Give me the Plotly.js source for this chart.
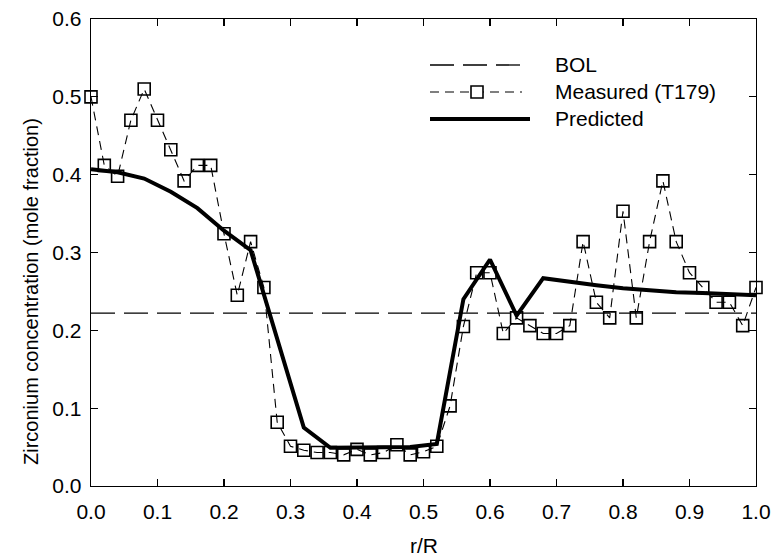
<!DOCTYPE html>
<html>
<head>
<meta charset="utf-8">
<script src="https://cdn.plot.ly/plotly-3.0.1.min.js"></script>
<style>html,body{margin:0;padding:0;background:#fff;}#chart{width:771px;height:560px;}</style>
</head>
<body>
<div id="chart"></div>
<script>
// Measured (T179) radial positions and zirconium mole fractions
const measuredX = [0.00,0.02,0.04,0.06,0.08,0.10,0.12,0.14,0.16,0.18,0.20,0.22,0.24,0.26,0.28,0.30,0.32,0.34,0.36,0.38,0.40,0.42,0.44,0.46,0.48,0.50,0.52,0.54,0.56,0.58,0.60,0.62,0.64,0.66,0.68,0.70,0.72,0.74,0.76,0.78,0.80,0.82,0.84,0.86,0.88,0.90,0.92,0.94,0.96,0.98,1.00];
const measuredY = [0.500,0.412,0.398,0.470,0.510,0.470,0.432,0.392,0.412,0.412,0.324,0.245,0.314,0.255,0.082,0.051,0.046,0.043,0.043,0.040,0.047,0.040,0.043,0.053,0.040,0.044,0.051,0.103,0.205,0.274,0.274,0.196,0.216,0.206,0.196,0.196,0.206,0.314,0.236,0.216,0.353,0.216,0.314,0.392,0.314,0.274,0.255,0.236,0.236,0.206,0.255];

// Predicted profile
const predictedX = [0.00,0.04,0.08,0.12,0.16,0.20,0.24,0.32,0.36,0.40,0.44,0.48,0.52,0.56,0.60,0.64,0.68,0.72,0.76,0.80,0.84,0.88,0.92,0.96,1.00];
const predictedY = [0.407,0.403,0.395,0.378,0.357,0.328,0.303,0.075,0.049,0.049,0.049,0.050,0.054,0.240,0.291,0.219,0.267,0.262,0.258,0.254,0.251,0.249,0.248,0.246,0.245];

// Beginning-of-life level
const bolX = [0.0, 1.0];
const bolY = [0.222, 0.222];

const legendLabels = ["BOL", "Measured (T179)", "Predicted"];
const xTitle = "r/R";
const yTitle = "Zirconium concentration (mole fraction)";

const FONT = "Liberation Sans, Arial, Helvetica, sans-serif";

const traces = [
  {x: bolX, y: bolY, mode: "lines", name: legendLabels[0],
   line: {color: "#000", width: 1.3, dash: "24px,9px"}, hoverinfo: "skip"},
  {x: measuredX, y: measuredY, mode: "lines+markers", name: legendLabels[1],
   line: {color: "#000", width: 1.1, dash: "9px,6px"},
   marker: {symbol: "square-open", size: 12, color: "#000", line: {width: 1.6, color: "#000"}},
   cliponaxis: false},
  {x: predictedX, y: predictedY, mode: "lines", name: legendLabels[2],
   line: {color: "#000", width: 4}, cliponaxis: false}
];

// Custom legend (long sample lines like the original)
const lx0 = (430 - 91) / 665, lx1 = (522 - 91) / 665, ltx = (553 - 91) / 665;
const rowY = [65, 92, 119].map(p => (486 - p) / 467);
const sqHalfX = 6 / 665, sqHalfY = 6 / 467, sqCx = (477 - 91) / 665;

const shapes = [
  {type: "line", xref: "paper", yref: "paper", x0: lx0, x1: lx1, y0: rowY[0], y1: rowY[0], line: {color: "#000", width: 1.3, dash: "24px,9px"}},
  {type: "line", xref: "paper", yref: "paper", x0: lx0, x1: lx1, y0: rowY[1], y1: rowY[1], line: {color: "#000", width: 1.1, dash: "9px,6px"}},
  {type: "rect", xref: "paper", yref: "paper", x0: sqCx - sqHalfX, x1: sqCx + sqHalfX, y0: rowY[1] - sqHalfY, y1: rowY[1] + sqHalfY, fillcolor: "#fff", line: {color: "#000", width: 1.6}},
  {type: "line", xref: "paper", yref: "paper", x0: lx0, x1: lx1 + 8/665, y0: rowY[2], y1: rowY[2], line: {color: "#000", width: 4}}
];

const annotations = legendLabels.map((t, i) => ({
  text: t, xref: "paper", yref: "paper", x: ltx, y: rowY[i], xanchor: "left", yanchor: "middle",
  showarrow: false, font: {family: FONT, size: 21, color: "#000"}
}));
annotations.push({text: yTitle, xref: "paper", yref: "paper", x: (31 - 91) / 665, y: (486 - 292) / 467,
  textangle: -90, xanchor: "center", yanchor: "middle", showarrow: false, font: {family: FONT, size: 20, color: "#000"}});
annotations.push({text: xTitle, xref: "paper", yref: "paper", x: 0.5, y: (486 - 559) / 467,
  xanchor: "center", yanchor: "bottom", showarrow: false, font: {family: FONT, size: 21, color: "#000"}});

const axisCommon = {
  showgrid: false, zeroline: false, showline: true, linecolor: "#000", linewidth: 1.3,
  mirror: "ticks", ticks: "inside", ticklen: 7, tickwidth: 1.1, tickcolor: "#000",
  tickfont: {family: FONT, size: 21, color: "#000"}, tickformat: ".1f"
};

const layout = {
  width: 771, height: 560,
  margin: {l: 91, r: 15, t: 19, b: 74},
  paper_bgcolor: "#fff", plot_bgcolor: "#fff",
  showlegend: false,
  font: {family: FONT, color: "#000"},
  xaxis: Object.assign({}, axisCommon, {range: [0, 1], dtick: 0.1, tick0: 0, ticklabelstandoff: 6}),
  yaxis: Object.assign({}, axisCommon, {range: [0, 0.6], dtick: 0.1, tick0: 0, ticklabelstandoff: 4}),
  shapes: shapes,
  annotations: annotations
};

Plotly.newPlot("chart", traces, layout, {displayModeBar: false, staticPlot: true});
</script>
</body>
</html>
